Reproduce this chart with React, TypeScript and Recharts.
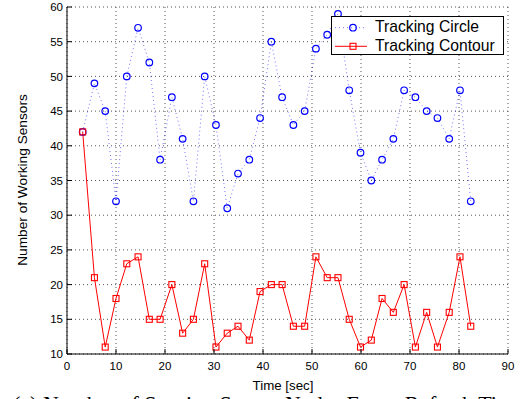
import React from 'react';
import { LineChart, Line, XAxis, YAxis, CartesianGrid } from 'recharts';

const times = [3.2, 5.6, 7.8, 10.0, 12.2, 14.5, 16.8, 19.0, 21.4, 23.6, 25.8, 28.1, 30.4, 32.7, 34.9, 37.2, 39.4, 41.7, 43.9, 46.2, 48.5, 50.8, 53.1, 55.3, 57.6, 59.9, 62.1, 64.3, 66.6, 68.8, 71.1, 73.4, 75.6, 78.0, 80.2, 82.4];
const trackingCircle = [42, 49, 45, 32, 50, 57, 52, 38, 47, 41, 32, 50, 43, 31, 36, 38, 44, 55, 47, 43, 45, 54, 56, 59, 48, 39, 35, 38, 41, 48, 47, 45, 44, 41, 48, 32];
const trackingContour = [42, 21, 11, 18, 23, 24, 15, 15, 20, 13, 15, 23, 11, 13, 14, 12, 19, 20, 20, 14, 14, 24, 21, 21, 15, 11, 12, 18, 16, 20, 11, 16, 11, 16, 24, 14];
const xTicks = [0, 10, 20, 30, 40, 50, 60, 70, 80, 90];
const yTicks = [10, 15, 20, 25, 30, 35, 40, 45, 50, 55, 60];
const seriesNames = ['Tracking Circle', 'Tracking Contour'];
const xLabel = 'Time [sec]';
const yLabel = 'Number of Working Sensors';
const caption = '(a) Number of Sensing Sensor Nodes Every Refresh Time';

const data = times.map((t, i) => ({ t, circle: trackingCircle[i], contour: trackingContour[i] }));

const SANS = '"Liberation Sans", Arial, Helvetica, sans-serif';
const BLUE = '#0000ff';
const RED = '#ff0000';

const YTick = (props: any) => {
  const { x, y, payload } = props;
  return (
    <g>
      <line x1={x + 4} x2={x + 9} y1={y} y2={y} stroke="#000" strokeWidth={1} />
      <text x={x} y={y} dy="0.36em" textAnchor="end" fontSize={11.5} fontFamily={SANS} fill="#000">
        {payload.value}
      </text>
    </g>
  );
};

const XTick = (props: any) => {
  const { x, y, payload } = props;
  return (
    <g>
      <line x1={x} x2={x} y1={y - 8} y2={y - 13} stroke="#000" strokeWidth={1} />
      <text x={x} y={y} dy="0.72em" textAnchor="middle" fontSize={11.5} fontFamily={SANS} fill="#000">
        {payload.value}
      </text>
    </g>
  );
};

const CircleDot = (props: any) => {
  const { cx, cy, index } = props;
  if (cx == null || cy == null) return <g key={index} />;
  return <circle key={index} cx={cx} cy={cy} r={3.3} fill="none" stroke={BLUE} strokeWidth={1.2} />;
};

const SquareDot = (props: any) => {
  const { cx, cy, index } = props;
  if (cx == null || cy == null) return <g key={index} />;
  return <rect key={index} x={cx - 3} y={cy - 3} width={6} height={6} fill="none" stroke={RED} strokeWidth={1.1} />;
};

export default function App() {
  return (
    <div style={{ position: 'absolute', left: 0, top: 0, width: 521, height: 399, overflow: 'hidden', background: '#fff' }}>
      <LineChart width={521} height={399} data={data} margin={{ top: 7, right: 13, bottom: 15, left: 27 }}>
        <CartesianGrid stroke="#555" strokeDasharray="1 3" strokeWidth={1} />
        <XAxis
          type="number"
          dataKey="t"
          domain={[0, 90]}
          ticks={xTicks}
          interval={0}
          height={30}
          tickSize={0}
          tickMargin={8}
          tickLine={false}
          axisLine={{ stroke: '#000', strokeWidth: 1 }}
          tick={<XTick />}
          label={() => (
            <text x={283} y={390} textAnchor="middle" fontSize={13.3} fontFamily={SANS} fill="#000">{xLabel}</text>
          )}
        />
        <YAxis
          type="number"
          domain={[10, 60]}
          ticks={yTicks}
          interval={0}
          width={40}
          tickSize={0}
          tickMargin={4}
          tickLine={false}
          axisLine={{ stroke: '#000', strokeWidth: 1 }}
          tick={<YTick />}
          label={() => (
            <text x={26.5} y={180} transform="rotate(-90, 26.5, 180)" textAnchor="middle" fontSize={13.7} fontFamily={SANS} fill="#000">{yLabel}</text>
          )}
        />
        <Line
          dataKey="circle"
          name={seriesNames[0]}
          type="linear"
          stroke={BLUE}
          strokeOpacity={0.55}
          strokeWidth={1}
          strokeDasharray="1 3"
          dot={<CircleDot />}
          activeDot={false}
          isAnimationActive={false}
        />
        <Line
          dataKey="contour"
          name={seriesNames[1]}
          type="linear"
          stroke={RED}
          strokeWidth={1}
          dot={<SquareDot />}
          activeDot={false}
          isAnimationActive={false}
        />
      </LineChart>
      <svg width={173} height={39} style={{ position: 'absolute', left: 331, top: 16 }}>
        <rect x={0.5} y={0.5} width={172} height={38} fill="#fff" stroke="#000" strokeWidth={1} />
        <line x1={4} x2={36} y1={11.7} y2={11.7} stroke={BLUE} strokeOpacity={0.55} strokeDasharray="1 3" />
        <circle cx={22} cy={11.7} r={3.3} fill="none" stroke={BLUE} strokeWidth={1.2} />
        <text x={44} y={16.3} fontSize={15.7} fontFamily={SANS} fill="#000">{seriesNames[0]}</text>
        <line x1={4} x2={36} y1={30.3} y2={30.3} stroke={RED} strokeWidth={1} />
        <rect x={19} y={27.3} width={6} height={6} fill="none" stroke={RED} strokeWidth={1.1} />
        <text x={44} y={35} fontSize={15.7} fontFamily={SANS} fill="#000">{seriesNames[1]}</text>
      </svg>
      <div style={{ position: 'absolute', left: 13, top: 393, fontFamily: '"Liberation Serif", "Times New Roman", serif', fontSize: 22, lineHeight: 1, whiteSpace: 'nowrap', color: '#000' }}>
        {caption}
      </div>
    </div>
  );
}
